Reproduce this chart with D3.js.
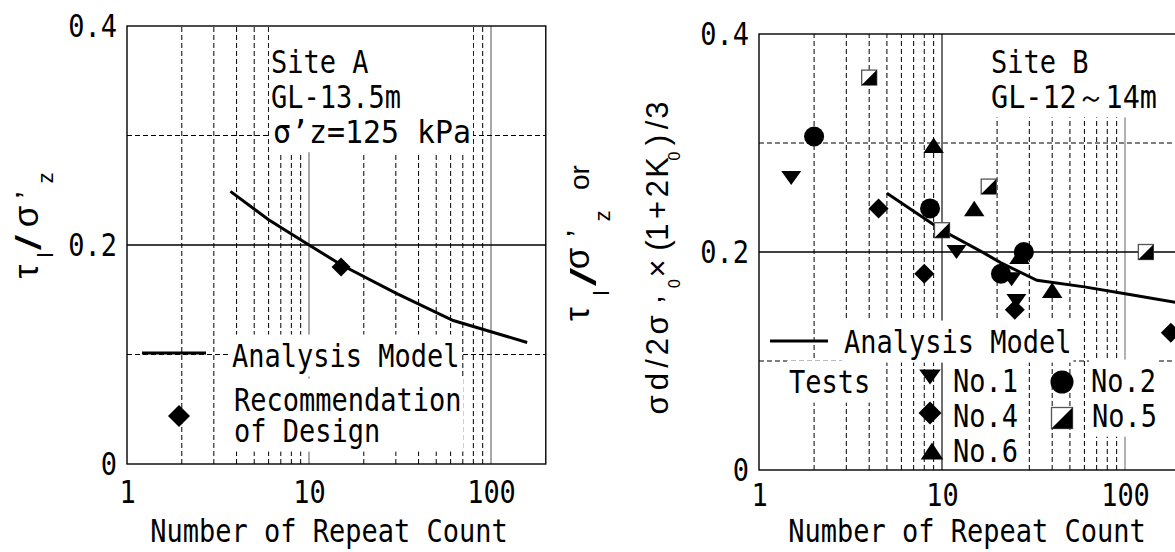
<!DOCTYPE html>
<html>
<head>
<meta charset="utf-8">
<script src="https://cdn.jsdelivr.net/npm/d3@7"></script>
<style>
  body { margin: 0; background: #fff; overflow: hidden; }
  svg { display: block; }
</style>
</head>
<body>
<svg id="chart" width="1175" height="552"></svg>
<script>
// ---------------- data ----------------
const xTickValues = [1, 10, 100];
const xTickLabels = ["1", "10", "100"];
const yTickValues = [0, 0.2, 0.4];
const yTickLabels = ["0", "0.2", "0.4"];
const xTitle = "Number of Repeat Count";

// Site A : analysis model curve and design recommendation
const siteAModelN     = [3.7, 6, 10, 15, 30, 62, 158];
const siteAModelRatio = [0.249, 0.223, 0.200, 0.182, 0.156, 0.131, 0.111];
const siteADesignN     = [15];
const siteADesignRatio = [0.18];

// Site B : analysis model curve and laboratory tests
const siteBModelN     = [5, 10, 17, 21, 33, 60, 106, 200];
const siteBModelRatio = [0.254, 0.220, 0.199, 0.190, 0.174, 0.168, 0.161, 0.153];
const test1N = [1.5, 12, 24, 25.5];
const test1Ratio = [0.268, 0.200, 0.175, 0.155];
const test2N = [2, 8.6, 21, 28];
const test2Ratio = [0.306, 0.240, 0.180, 0.200];
const test4N = [4.5, 8, 25, 178];
const test4Ratio = [0.240, 0.180, 0.147, 0.126];
const test5N = [4, 10, 18, 130];
const test5Ratio = [0.360, 0.220, 0.260, 0.200];
const test6N = [9, 15, 26.5, 40];
const test6Ratio = [0.298, 0.240, 0.196, 0.165];

// ---------------- styling helpers ----------------
const svg = d3.select("#chart");
const FS = 32.5, HALF = FS / 2;
const MONO = "'DejaVu Sans Mono','Liberation Mono',monospace";
const SANS = "'Liberation Sans',Arial,sans-serif";

function charWidth(str) {
  return Array.from(str).reduce((s, c) => s + (c.charCodeAt(0) < 256 ? HALF : 2 * HALF), 0);
}
// Condense a text element horizontally so that its advance equals `width`.
function condense(t, x, y, width) {
  const natural = t.node().getComputedTextLength();
  const sx = natural > 0 ? width / natural : 1;
  t.attr("x", 0).attr("y", 0).attr("transform", `translate(${x},${y}) scale(${sx},1)`);
  return t;
}
// Half-width "gothic" style text: every ASCII glyph gets half an em.
function mono(g, x, y, str, anchor, width) {
  const t = g.append("text")
    .attr("text-anchor", anchor || "start")
    .attr("font-family", MONO).attr("font-size", FS)
    .attr("fill", "#000")
    .text(str);
  return condense(t, x, y, width || charWidth(str));
}
function whiteBox(layer, nodes, pad, extendTop) {
  let x0 = Infinity, y0 = Infinity, x1 = -Infinity, y1 = -Infinity;
  const o = svg.node().getBoundingClientRect();
  nodes.forEach(n => {
    const b = n.node().getBoundingClientRect();
    x0 = Math.min(x0, b.left - o.left); y0 = Math.min(y0, b.top - o.top);
    x1 = Math.max(x1, b.right - o.left); y1 = Math.max(y1, b.bottom - o.top);
  });
  if (extendTop !== undefined) y0 = extendTop + pad;
  layer.append("rect")
    .attr("x", x0 - pad).attr("y", y0 - pad)
    .attr("width", x1 - x0 + 2 * pad).attr("height", y1 - y0 + 2 * pad)
    .attr("fill", "#fff");
}
// Rotated (reading upward) glyph piece, centred on cy with its baseline at bx.
function rotPiece(g, str, cy, bx, size, sx) {
  g.append("g").attr("transform", `translate(${bx},${cy}) rotate(-90) scale(${sx || 1},1)`)
    .append("text").attr("text-anchor", "middle")
    .attr("font-family", SANS).attr("font-size", size).attr("fill", "#000")
    .text(str);
}

// ---------------- marker shapes ----------------
function triDown(w, h) { return `M${-w/2},${-h/2}L${w/2},${-h/2}L0,${h/2}Z`; }
function triUp(w, h)   { return `M${-w/2},${h/2}L${w/2},${h/2}L0,${-h/2}Z`; }
function diamond(w, h) { return `M0,${-h/2}L${w/2},0L0,${h/2}L${-w/2},0Z`; }
function drawMarker(g, kind, cx, cy, scale) {
  const k = scale || 1;
  if (kind === "down") g.append("path").attr("d", triDown(20 * k, 14 * k)).attr("transform", `translate(${cx},${cy})`).attr("fill", "#000");
  if (kind === "up") g.append("path").attr("d", triUp(20.5 * k, 15.5 * k)).attr("transform", `translate(${cx},${cy})`).attr("fill", "#000");
  if (kind === "diamond") g.append("path").attr("d", diamond(20 * k, 20 * k)).attr("transform", `translate(${cx},${cy})`).attr("fill", "#000");
  if (kind === "circle") g.append("circle").attr("cx", cx).attr("cy", cy).attr("r", 10 * k).attr("fill", "#000");
  if (kind === "square") {
    const s = 15 * k / 2;
    const q = g.append("g").attr("transform", `translate(${cx},${cy})`);
    q.append("rect").attr("x", -s).attr("y", -s).attr("width", 2 * s).attr("height", 2 * s)
      .attr("fill", "#fff").attr("stroke", "#555").attr("stroke-width", 1.3);
    q.append("path").attr("d", `M${s},${-s}L${s},${s}L${-s},${s}Z`).attr("fill", "#000");
  }
}

// ---------------- one log-linear panel ----------------
function panel(cfg) {
  const x = d3.scaleLog().domain([1, 200]).range([cfg.x0, cfg.x0 + cfg.decade * Math.log10(200)]);
  const y = d3.scaleLinear().domain([0, 0.4]).range([cfg.yBottom, cfg.yTop]);
  const [xl, xr] = x.range();
  const root = svg.append("g");
  const grid = root.append("g");
  const boxes = root.append("g");
  const marks = root.append("g");
  const texts = root.append("g");
  const frame = root.append("g");

  // grid
  const xt = x.ticks();
  const isMajor = v => Math.abs(Math.log10(v) - Math.round(Math.log10(v))) < 1e-9;
  grid.selectAll("line.minor").data(xt.filter(v => !isMajor(v) && v < 200)).join("line")
    .attr("x1", d => x(d)).attr("x2", d => x(d))
    .attr("y1", y(0)).attr("y2", y(0.4))
    .attr("stroke", "#000").attr("stroke-width", 1).attr("stroke-dasharray", "5,3");
  grid.selectAll("line.major").data(xt.filter(v => isMajor(v) && v > 1 && v < 200)).join("line")
    .attr("x1", d => x(d)).attr("x2", d => x(d))
    .attr("y1", y(0)).attr("y2", y(0.4))
    .attr("stroke", (d, i) => cfg.majorColors[i]).attr("stroke-width", 1.3);
  const yt = y.ticks(4).filter(v => v > 0 && v < 0.4);
  yt.forEach(v => {
    const solid = Math.abs(v - 0.2) < 1e-9;
    grid.append("line").attr("x1", xl).attr("x2", xr).attr("y1", y(v)).attr("y2", y(v))
      .attr("stroke", "#000").attr("stroke-width", solid ? 1.3 : 1)
      .attr("stroke-dasharray", solid ? null : "5,3");
  });

  // axes (labels only, the frame is drawn separately)
  const ax = frame.append("g").attr("transform", `translate(0,${y(0)})`)
    .call(d3.axisBottom(x).tickValues(xTickValues).tickFormat((d, i) => xTickLabels[i])
      .tickSize(0).tickPadding(cfg.xPad));
  const ay = frame.append("g").attr("transform", `translate(${xl},0)`)
    .call(d3.axisLeft(y).tickValues(yTickValues).tickFormat((d, i) => yTickLabels[i])
      .tickSize(0).tickPadding(10));
  [ax, ay].forEach(a => {
    a.select(".domain").remove();
    a.attr("font-family", MONO).attr("font-size", FS);
    a.selectAll("text").attr("fill", "#000").each(function () {
      const t = d3.select(this);
      const px = +t.attr("x") || 0, py = +t.attr("y") || 0;
      const dy = parseFloat(t.attr("dy")) * FS;
      t.attr("dy", null);
      condense(t, px, py + dy, charWidth(this.textContent));
    });
  });
  mono(frame, cfg.titleX, 542, xTitle, "middle");

  frame.append("rect").attr("x", xl).attr("y", y(0.4)).attr("width", xr - xl).attr("height", y(0) - y(0.4))
    .attr("fill", "none").attr("stroke", "#000").attr("stroke-width", 1.4);

  return { x, y, boxes, marks, texts };
}

// ================= Site A =================
const A = panel({ x0: 127, decade: 182, yBottom: 464, yTop: 26, xPad: 16, titleX: 329,
  majorColors: ["#7a7a7a", "#7a7a7a"] });

const lineGen = (p) => d3.line().x(d => p.x(d[0])).y(d => p.y(d[1]));
A.marks.append("path").datum(d3.zip(siteAModelN, siteAModelRatio))
  .attr("d", lineGen(A)).attr("fill", "none").attr("stroke", "#000").attr("stroke-width", 3);
d3.zip(siteADesignN, siteADesignRatio).forEach(d => drawMarker(A.marks, "diamond", A.x(d[0]), A.y(d[1]), 0.95));

// site annotation
const aInfo = [mono(A.texts, 271, 73, "Site A"), mono(A.texts, 271, 108, "GL-13.5m"),
               mono(A.texts, 273, 143, "σ’z=125 kPa", "start", 198)];
whiteBox(A.boxes, aInfo, 2, 26);

// legend
A.marks.append("line").attr("x1", 142).attr("x2", 206).attr("y1", 353).attr("y2", 353)
  .attr("stroke", "#000").attr("stroke-width", 3);
whiteBox(A.boxes, [mono(A.texts, 232, 367, "Analysis Model")], 2);
drawMarker(A.marks, "diamond", 179, 416, 1.1);
whiteBox(A.boxes, [mono(A.texts, 234, 411, "Recommendation"), mono(A.texts, 234, 442, "of Design")], 2);

// y title
const ta = svg.append("g");
rotPiece(ta, "τ", 271.5, 38, 35);
rotPiece(ta, "l", 255, 53, 22);
rotPiece(ta, "/", 242.5, 41, 36, 1.5);
rotPiece(ta, "σ", 216.5, 38, 35);
rotPiece(ta, "’", 195, 39, 34);
rotPiece(ta, "z", 178, 53, 22);

// ================= Site B =================
const B = panel({ x0: 759, decade: 183, yBottom: 470, yTop: 34, xPad: 13, titleX: 967,
  majorColors: ["#222", "#888"] });

B.marks.append("path").datum(d3.zip(siteBModelN, siteBModelRatio))
  .attr("d", lineGen(B)).attr("fill", "none").attr("stroke", "#000").attr("stroke-width", 3);

const tests = [
  { n: test6N, r: test6Ratio, kind: "up" },
  { n: test1N, r: test1Ratio, kind: "down" },
  { n: test4N, r: test4Ratio, kind: "diamond" },
  { n: test5N, r: test5Ratio, kind: "square" },
  { n: test2N, r: test2Ratio, kind: "circle" },
];
tests.forEach(s => d3.zip(s.n, s.r).forEach(d => drawMarker(B.marks, s.kind, B.x(d[0]), B.y(d[1]))));

const bInfo = [mono(B.texts, 991, 73, "Site B"), mono(B.texts, 991, 108, "GL-12～14m", "start", 166)];
whiteBox(B.boxes, bInfo, 2, 34);

// legend
B.marks.append("line").attr("x1", 770).attr("x2", 828).attr("y1", 341).attr("y2", 341)
  .attr("stroke", "#000").attr("stroke-width", 3);
whiteBox(B.boxes, [mono(B.texts, 844, 353, "Analysis Model")], 2);
whiteBox(B.boxes, [mono(B.texts, 789, 393, "Tests")], 2);
whiteBox(B.boxes, [mono(B.texts, 953, 392, "No.1"), mono(B.texts, 953, 427, "No.4"), mono(B.texts, 953, 462, "No.6")], 2);
whiteBox(B.boxes, [mono(B.texts, 1091, 392, "No.2"), mono(B.texts, 1092, 427, "No.5")], 2);
drawMarker(B.marks, "down", 930, 377, 1.08);
drawMarker(B.marks, "diamond", 930, 413, 1.15);
drawMarker(B.marks, "up", 932, 451, 1.1);
drawMarker(B.marks, "circle", 1062, 382, 1.15);
drawMarker(B.marks, "square", 1062, 418, 1.4);

// y title, two lines
const tb = svg.append("g");
rotPiece(tb, "τ", 314, 589, 35);
rotPiece(tb, "l", 293, 609, 22);
rotPiece(tb, "/", 277, 596, 36, 1.8);
rotPiece(tb, "σ", 258.5, 589, 35);
rotPiece(tb, "’", 233.5, 590, 34);
rotPiece(tb, "z", 216, 610, 22);
rotPiece(tb, "or", 177.5, 589, 28);

const line2 = [
  ["σ", 405, 668, 31], ["d", 381.5, 668, 31], ["/", 363.5, 668, 31], ["2", 346.5, 668, 31],
  ["σ", 325, 668, 31], ["’", 299.5, 680, 31], ["0", 283.5, 680, 16], ["×", 268.5, 668, 31],
  ["(", 245.5, 668, 31], ["1", 232, 668, 31], ["+", 210, 668, 31], ["2", 188.5, 668, 31],
  ["K", 167.5, 668, 31], ["0", 156, 680, 16], [")", 140, 668, 31], ["/", 125, 668, 31],
  ["3", 110, 668, 31]
];
line2.forEach(p => rotPiece(tb, p[0], p[1], p[2], p[3]));
</script>
</body>
</html>
